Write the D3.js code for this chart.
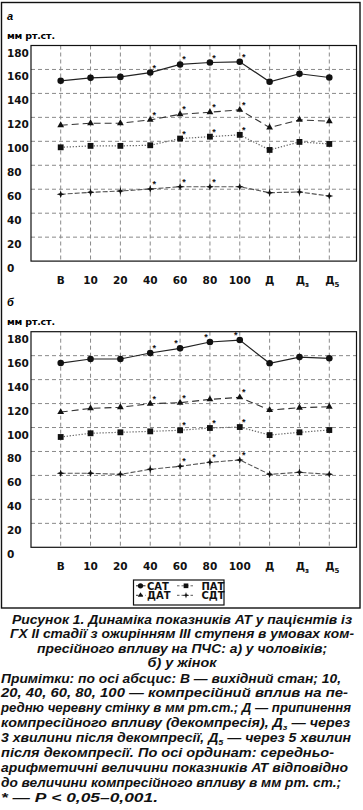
<!DOCTYPE html>
<html>
<head>
<meta charset="utf-8">
<script src="https://cdn.jsdelivr.net/npm/d3@7"></script>
<style>
    body { margin: 0; background: #fff; }
    svg { display: block; }
</style>
</head>
<body>
<div id="chart"></div>
<script>
// categories on the x axis ("Дз" / "Д5" -> Д with subscript)
const categories = ["В", "10", "20", "40", "60", "80", "100", "Д", "Дз", "Д5"];
const y_ticks = [0, 20, 40, 60, 80, 100, 120, 140, 160, 180];

// panel а (men)
const sat_a = [150.5, 153, 153.8, 157.4, 164.2, 165.8, 166.4, 149.7, 156.4, 153.3];
const dat_a = [113.4, 115.1, 115.1, 117.9, 122.6, 124.3, 126.3, 111.5, 117.9, 116.8];
const pat_a = [95, 96.2, 96.2, 96.7, 102.3, 103.9, 105.4, 92.8, 99.5, 97.8];
const sdt_a = [55.8, 57.4, 58.5, 60.2, 62.1, 62.1, 62.1, 57.1, 57.7, 54.3];
// panel б (women)
const sat_b = [153.8, 157.2, 157.2, 162.2, 166.1, 171.4, 173, 153.6, 158.8, 157.8];
const dat_b = [112.9, 116, 116.9, 119.9, 120.7, 123.5, 125.2, 114.6, 116.5, 117.4];
const pat_b = [92.1, 95.2, 96, 96.8, 97.7, 99.6, 100.4, 93.7, 96, 97.9];
const sdt_b = [61.8, 61.8, 60.9, 65.1, 67.6, 71, 72.9, 60.9, 62.6, 60.9];

// significance marks (*): 1 = to the right, -1 = to the left, 0 = none
const star_sat_a = [0, 0, 0, 1, 1, 1, 1, 0, 0, 0];
const star_dat_a = [0, 0, 0, 1, 1, 1, 1, 0, 0, 0];
const star_pat_a = [0, 0, 0, 0, 1, 1, 1, 0, 0, 0];
const star_sdt_a = [0, 0, 0, 1, 1, 1, 0, 0, 0, 0];
const star_sat_b = [0, 0, 0, 1, -1, -1, -1, 0, 0, 0];
const star_dat_b = [0, 0, 0, 1, 1, 0, 1, 0, 0, 0];
const star_pat_b = [0, 0, 0, 0, 1, 1, 1, 0, 0, 0];
const star_sdt_b = [0, 0, 0, 0, 1, 1, 1, 0, 0, 0];

const series_names = ["САТ", "ДАТ", "ПАТ", "СДТ"];

const caption_lines = [
    "Рисунок 1. Динаміка показників АТ у пацієнтів із",
    "ГХ ІІ стадії з ожирінням ІІІ ступеня в умовах ком-",
    "пресійного впливу на ПЧС: а) у чоловіків;",
    "б) у жінок"
];
const note_lines = [
    "Примітки: по осі абсцис: В — вихідний стан; 10,",
    "20, 40, 60, 80, 100 — компресійний вплив на пе-",
    "редню черевну стінку в мм рт.ст.; Д — припинення",
    "компресійного впливу (декомпресія), Д_з — через",
    "3 хвилини після декомпресії, Д_5 — через 5 хвилин",
    "після декомпресії. По осі ординат: середньо-",
    "арифметичні величини показників АТ відповідно",
    "до величини компресійного впливу в мм рт. ст.;",
    "* — Р < 0,05–0,001."
];

const W = 363, H = 810;
const chart_font = "'DejaVu Sans', Verdana, sans-serif";
const text_font = "'Liberation Sans', Arial, sans-serif";

const svg = d3.select("#chart").append("svg")
    .attr("width", W)
    .attr("height", H);

svg.append("rect")
    .attr("x", 1.5).attr("y", 2.5)
    .attr("width", 358.5).attr("height", 605.5)
    .attr("fill", "none")
    .attr("stroke", "#111")
    .attr("stroke-width", 1.4);

const x = d3.scalePoint()
    .domain(categories)
    .range([60.7, 329.3]);

const plot_left = 31, plot_right = 356.5, plot_h = 215.6;

// marker shapes
function star4(r, ri) {
    const p = [];
    for (let i = 0; i < 8; i++) {
        const a = i * Math.PI / 4 - Math.PI / 2;
        const rr = i % 2 === 0 ? r : ri;
        p.push([Math.cos(a) * rr, Math.sin(a) * rr]);
    }
    return "M" + p.map(d => d.join(",")).join("L") + "Z";
}
const marker_path = {
    "САТ": d3.symbol(d3.symbolCircle, 34)(),
    "ДАТ": d3.symbol(d3.symbolTriangle, 20)(),
    "ПАТ": d3.symbol(d3.symbolSquare, 34)(),
    "СДТ": star4(4, 1.4)
};
const line_style = {
    "САТ": { color: "#222", dash: null, width: 1.2 },
    "ДАТ": { color: "#333", dash: "7,4", width: 1.1 },
    "ПАТ": { color: "#666", dash: "1.3,1.7", width: 1.2 },
    "СДТ": { color: "#555", dash: "5,2", width: 1.1 }
};

function draw_panel(top, letter, values, stars) {
    const y = d3.scaleLinear()
        .domain([0, 180])
        .range([top + plot_h, top]);
    const g = svg.append("g");

    g.append("text")
        .attr("x", 7).attr("y", top - 26)
        .style("font-family", text_font)
        .style("font-weight", "bold")
        .style("font-style", "italic")
        .style("font-size", "11px")
        .text(letter);
    g.append("text")
        .attr("x", 7).attr("y", top - 7)
        .attr("textLength", 48)
        .style("font-family", chart_font)
        .style("font-weight", "bold")
        .style("font-size", "9.5px")
        .text("мм рт.ст.");

    // grid
    g.append("g")
        .selectAll("line.h")
        .data(y_ticks.filter(d => d > 0 && d < 180))
        .enter().append("line")
        .attr("x1", plot_left).attr("x2", plot_right)
        .attr("y1", d => y(d)).attr("y2", d => y(d))
        .attr("stroke", "#8a8a8a")
        .attr("stroke-dasharray", "4,3");
    g.append("g")
        .selectAll("line.v")
        .data(categories)
        .enter().append("line")
        .attr("x1", d => x(d)).attr("x2", d => x(d))
        .attr("y1", y(180)).attr("y2", y(0))
        .attr("stroke", "#8a8a8a")
        .attr("stroke-dasharray", "4,3");

    g.append("rect")
        .attr("x", plot_left).attr("y", y(180))
        .attr("width", plot_right - plot_left)
        .attr("height", y(0) - y(180))
        .attr("fill", "none")
        .attr("stroke", "#111")
        .attr("stroke-width", 1.2);

    // y labels (sit a bit under their grid lines, like the original)
    g.selectAll("text.yl")
        .data(y_ticks)
        .enter().append("text")
        .attr("x", 7)
        .attr("y", d => y(d) + 11)
        .style("font-family", chart_font)
        .style("font-weight", "bold")
        .style("font-size", "10.5px")
        .style("fill", "#111")
        .text(d => d);

    // x labels
    const xl = g.selectAll("text.xl")
        .data(categories)
        .enter().append("text")
        .attr("x", d => x(d) + (d.length > 1 && d[0] === "Д" ? 3 : 0))
        .attr("y", y(0) + 23)
        .attr("text-anchor", "middle")
        .style("font-family", chart_font)
        .style("font-weight", "bold")
        .style("font-size", "10.5px")
        .style("fill", "#111");
    xl.each(function (d) {
        const t = d3.select(this);
        if (d[0] === "Д" && d.length > 1) {
            t.append("tspan").text("Д");
            t.append("tspan").attr("dy", 3).style("font-size", "7px").text(d.slice(1));
        } else {
            t.text(d);
        }
    });

    series_names.forEach((name, i) => {
        const vals = values[i];
        const st = line_style[name];
        const line = d3.line()
            .x((d, j) => x(categories[j]))
            .y(d => y(d));
        g.append("path")
            .datum(vals)
            .attr("fill", "none")
            .attr("stroke", st.color)
            .attr("stroke-width", st.width)
            .attr("stroke-dasharray", st.dash)
            .attr("d", line);
        g.selectAll(null)
            .data(vals)
            .enter().append("path")
            .attr("d", marker_path[name])
            .attr("transform", (d, j) => `translate(${x(categories[j])},${y(d)})`)
            .attr("fill", "#111");
        g.selectAll(null)
            .data(vals.map((v, j) => ({ v: v, j: j, s: stars[i][j] })).filter(d => d.s !== 0))
            .enter().append("text")
            .attr("x", d => x(categories[d.j]) + d.s * 4)
            .attr("y", d => y(d.v) - 2)
            .attr("text-anchor", "middle")
            .style("font-family", text_font)
            .style("font-weight", "bold")
            .style("font-size", "9px")
            .style("fill", "#111")
            .text("*");
    });
}

draw_panel(45.5, "а", [sat_a, dat_a, pat_a, sdt_a], [star_sat_a, star_dat_a, star_pat_a, star_sdt_a]);
draw_panel(331.7, "б", [sat_b, dat_b, pat_b, sdt_b], [star_sat_b, star_dat_b, star_pat_b, star_sdt_b]);

// legend
const legend = svg.append("g");
legend.append("rect")
    .attr("x", 133.5).attr("y", 580)
    .attr("width", 90.5).attr("height", 25)
    .attr("fill", "#fff")
    .attr("stroke", "#111")
    .attr("stroke-width", 1.2);
const legend_pos = [[0, 0], [0, 1], [1, 0], [1, 1]]; // [col, row] for САТ, ДАТ, ПАТ, СДТ
series_names.forEach((name, i) => {
    const col = legend_pos[i][0], row = legend_pos[i][1];
    const cx = col === 0 ? 140.5 : 186;
    const x0 = col === 0 ? 136 : 177;
    const x1 = col === 0 ? 145.5 : 195;
    const cy = row === 0 ? 585.8 : 595.3;
    const st = line_style[name];
    legend.append("line")
        .attr("x1", x0).attr("x2", x1)
        .attr("y1", cy).attr("y2", cy)
        .attr("stroke", st.color)
        .attr("stroke-width", 1)
        .attr("stroke-dasharray", name === "САТ" ? null : "2.5,2");
    legend.append("path")
        .attr("d", marker_path[name])
        .attr("transform", `translate(${cx},${cy}) scale(0.8)`)
        .attr("fill", "#111");
    legend.append("text")
        .attr("x", col === 0 ? 147 : 201.5)
        .attr("y", cy + 3.8)
        .style("font-family", chart_font)
        .style("font-weight", "bold")
        .style("font-size", "10px")
        .style("fill", "#111")
        .text(name);
});

// caption
const caption_len = [340, 344, 290, 69];
svg.selectAll("text.cap")
    .data(caption_lines)
    .enter().append("text")
    .attr("x", 182)
    .attr("y", (d, i) => 624 + i * 14.3)
    .attr("text-anchor", "middle")
    .attr("textLength", (d, i) => caption_len[i])
    .attr("lengthAdjust", "spacingAndGlyphs")
    .style("font-family", text_font)
    .style("font-weight", "bold")
    .style("font-style", "italic")
    .style("font-size", "12.5px")
    .style("fill", "#111")
    .text(d => d);

// notes
const note_len = [340, 347, 350, 349, 350, 333, 347, 340, 157];
svg.selectAll("text.note")
    .data(note_lines)
    .enter().append("text")
    .attr("x", 1)
    .attr("y", (d, i) => 682.5 + i * 14.9)
    .attr("textLength", (d, i) => note_len[i])
    .attr("lengthAdjust", "spacingAndGlyphs")
    .style("font-family", text_font)
    .style("font-weight", "bold")
    .style("font-style", "italic")
    .style("font-size", "12.5px")
    .style("fill", "#111")
    .each(function (d) {
        const t = d3.select(this);
        const parts = d.split(/_(.)/);
        parts.forEach((p, k) => {
            if (k % 2 === 1) {
                t.append("tspan").attr("dy", 3).style("font-size", "8px").text(p);
            } else {
                const sp = t.append("tspan").text(p);
                if (k > 0) sp.attr("dy", -3);
            }
        });
    });
</script>
</body>
</html>
